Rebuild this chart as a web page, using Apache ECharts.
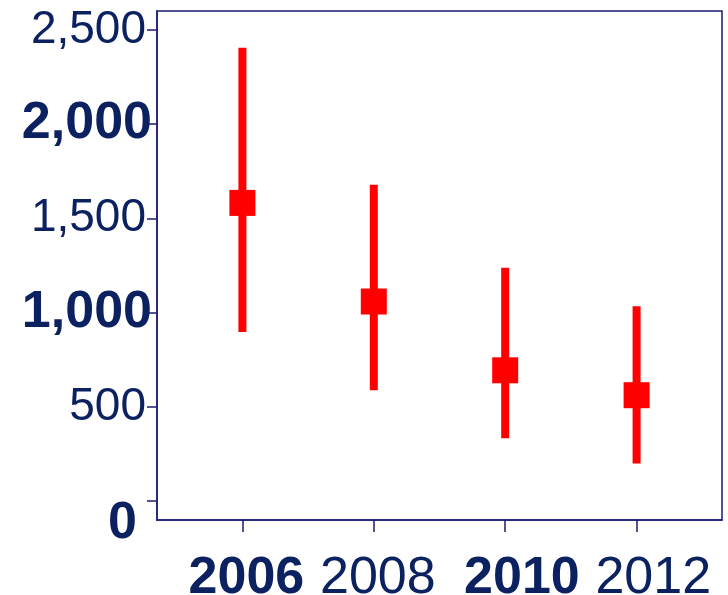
<!DOCTYPE html>
<html>
<head>
<meta charset="utf-8">
<script src="https://cdn.jsdelivr.net/npm/echarts@6/dist/echarts.min.js"></script>
<style>html,body{margin:0;padding:0;background:#fff;}#c{width:728px;height:595px;}</style>
</head>
<body>
<div id="c"></div>
<script>
const years = [2006, 2008, 2010, 2012];
const means = [1582, 1059, 694, 562];
const lows = [897, 588, 334, 200];
const highs = [2405, 1679, 1238, 1034];
const yTicks = [0, 500, 1000, 1500, 2000, 2500];
const boldYTicks = [0, 1000, 2000];
const boldYears = [2006, 2010];
const leftYears = [2006, 2008];
const rightYears = [2010, 2012];

const txt = '#0b2160';
const axisCol = '#1c1c72';
const red = '#ff0000';
const xMin = 2004.7, xMax = 2013.3;
const pxPerYear = 565 / (xMax - xMin);

const data = years.map((y, i) => [y, means[i], lows[i], highs[i]]);

function labelAxis(vals, shiftPx) {
  const s = shiftPx / pxPerYear;
  return {
    type: 'value', min: xMin - s, max: xMax - s, position: 'bottom', offset: 0, gridIndex: 0,
    splitLine: {show: false},
    axisLine: {show: false, onZero: false},
    axisTick: {show: false},
    axisLabel: {
      customValues: vals, margin: 33, color: txt, hideOverlap: false,
      formatter: v => (boldYears.includes(v) ? '{b|' : '{r|') + v + '}',
      rich: {
        b: {fontSize: 52, fontWeight: 'bold', color: txt, fontFamily: 'Liberation Sans', lineHeight: 52},
        r: {fontSize: 52, color: txt, fontFamily: 'Liberation Sans', lineHeight: 52}
      }
    }
  };
}

const chart = echarts.init(document.getElementById('c'), null, {renderer: 'canvas'});
chart.setOption({
  animation: false,
  backgroundColor: '#ffffff',
  grid: {left: 157, top: 11, width: 565, height: 509, outerBoundsMode: 'none', containLabel: false,
         show: true, borderColor: axisCol, borderWidth: 1.5, backgroundColor: 'transparent'},
  xAxis: [
    {
      type: 'value', min: xMin, max: xMax, position: 'bottom',
      splitLine: {show: false},
      axisLine: {show: true, onZero: false, lineStyle: {color: axisCol, width: 1.5}},
      axisTick: {show: true, customValues: years, length: 12, lineStyle: {color: axisCol, width: 1.5}},
      axisLabel: {show: false}
    },
    labelAxis(leftYears, 4),
    labelAxis(rightYears, 16.7)
  ],
  yAxis: {
    type: 'value', min: -100, max: 2600,
    splitLine: {show: false},
    axisLine: {show: true, onZero: false, lineStyle: {color: axisCol, width: 1.5}},
    axisTick: {show: true, customValues: yTicks, length: 10, lineStyle: {color: axisCol, width: 1.5}},
    axisLabel: {
      customValues: yTicks, margin: 5, color: txt, hideOverlap: false,
      formatter: v => {
        const s = v.toLocaleString('en-US');
        if (v === 0) return '{z|' + s + '}';
        return (boldYTicks.includes(v) ? '{b|' : '{r|') + s + '}';
      },
      rich: {
        b: {fontSize: 52, fontWeight: 'bold', color: txt, fontFamily: 'Liberation Sans', lineHeight: 52},
        r: {fontSize: 46, color: txt, fontFamily: 'Liberation Sans', padding: [0, 6, 0, 0], lineHeight: 46},
        z: {fontSize: 52, fontWeight: 'bold', color: txt, fontFamily: 'Liberation Sans', padding: [46, 15, 0, 0], lineHeight: 52}
      }
    }
  },
  series: [{
    type: 'custom',
    xAxisIndex: 0,
    yAxisIndex: 0,
    data: data,
    encode: {x: 0, y: [1, 2, 3]},
    renderItem: (params, api) => {
      const x = api.value(0);
      const m = api.coord([x, api.value(1)]);
      const lo = api.coord([x, api.value(2)]);
      const hi = api.coord([x, api.value(3)]);
      return {
        type: 'group',
        children: [
          {type: 'rect', shape: {x: lo[0] - 4, y: hi[1], width: 8, height: lo[1] - hi[1]}, style: {fill: red}},
          {type: 'rect', shape: {x: m[0] - 13, y: m[1] - 13, width: 26, height: 26}, style: {fill: red}}
        ]
      };
    }
  }]
});
</script>
</body>
</html>
